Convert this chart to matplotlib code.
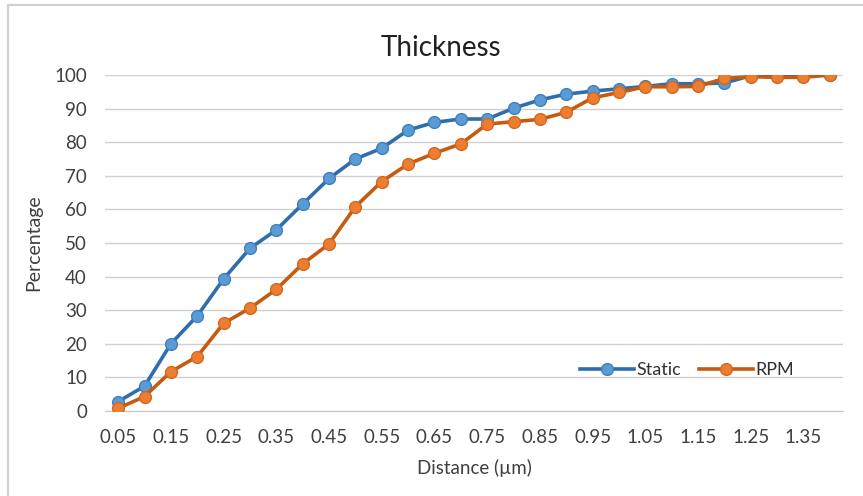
import matplotlib
matplotlib.use('Agg')
import matplotlib.pyplot as plt
from matplotlib.patches import Rectangle

distance = ['0.05', '0.1', '0.15', '0.2', '0.25', '0.3', '0.35', '0.4', '0.45', '0.5',
            '0.55', '0.6', '0.65', '0.7', '0.75', '0.8', '0.85', '0.9', '0.95', '1',
            '1.05', '1.1', '1.15', '1.2', '1.25', '1.3', '1.35', '1.4']
tick_labels = ['0.05', '0.15', '0.25', '0.35', '0.45', '0.55', '0.65',
               '0.75', '0.85', '0.95', '1.05', '1.15', '1.25', '1.35']
static = [2.8, 7.4, 20.0, 28.3, 39.3, 48.4, 53.9, 61.6, 69.2, 75.0,
          78.2, 83.6, 85.9, 86.9, 86.9, 90.1, 92.6, 94.3, 95.2, 95.9,
          96.6, 97.4, 97.4, 97.6, 99.8, 99.8, 99.8, 100.0]
rpm = [0.8, 4.3, 11.7, 16.2, 26.1, 30.6, 36.2, 43.8, 49.7, 60.8,
       68.3, 73.5, 76.7, 79.5, 85.4, 86.1, 86.8, 88.9, 93.2, 94.8,
       96.5, 96.5, 96.6, 99.0, 99.5, 99.3, 99.3, 100.0]

plt.rcParams['font.family'] = ['Lato', 'DejaVu Sans']

fig = plt.figure(figsize=(8.63, 4.96), dpi=100)
ax = fig.add_axes([105 / 863, 1 - 411 / 496, 738 / 863, 336 / 496])

x = list(range(len(distance)))
ax.plot(x, static, color='#2E6EAD', lw=2.6, marker='o', markersize=8.5,
        markerfacecolor='#5B9BD5', markeredgecolor='#3F7FBF', markeredgewidth=1,
        label='Static', zorder=3)
ax.plot(x, rpm, color='#C55A11', lw=2.6, marker='o', markersize=8.5,
        markerfacecolor='#ED7D31', markeredgecolor='#D2691E', markeredgewidth=1,
        label='RPM', zorder=4)

ax.set_xlim(-0.5, len(distance) - 0.5)
ax.set_ylim(0, 100)
ax.set_yticks(range(0, 101, 10))
ax.set_xticks([i for i in x if i % 2 == 0])
ax.set_xticklabels(tick_labels)
ax.grid(axis='y', color='#D0D0D0', lw=1)
ax.set_axisbelow(True)
for s in ['top', 'right', 'left']:
    ax.spines[s].set_visible(False)
ax.spines['bottom'].set_color('#C8C8C8')
ax.tick_params(length=0, labelsize=13.5, colors='#404040')
ax.tick_params(axis='x', pad=13)
ax.tick_params(axis='y', pad=13)

# title sits over the middle of the whole chart, not the plot area
ax.set_title('Thickness', fontsize=20, color='#202020', pad=14, x=(441 - 105) / 738)
ax.set_xlabel('Distance (µm)', fontsize=13.5, color='#404040')
ax.xaxis.set_label_coords(0.5, -48 / 336)
ax.set_ylabel('Percentage', fontsize=14, color='#404040')
ax.yaxis.set_label_coords(-63 / 738, 0.5)

ax.legend(loc='lower right', bbox_to_anchor=(0.955, 0.05), ncol=2, frameon=False,
          fontsize=13, handlelength=3.0, handletextpad=0.1, columnspacing=1.0,
          labelcolor='#303030')

fig.patches.append(Rectangle((8 / 863, -0.1), 1.2, 1 - 5 / 496 + 0.1,
                             transform=fig.transFigure, fill=False,
                             edgecolor='#D0D0D0', lw=1.5))

fig.savefig('out.png', dpi=100)
